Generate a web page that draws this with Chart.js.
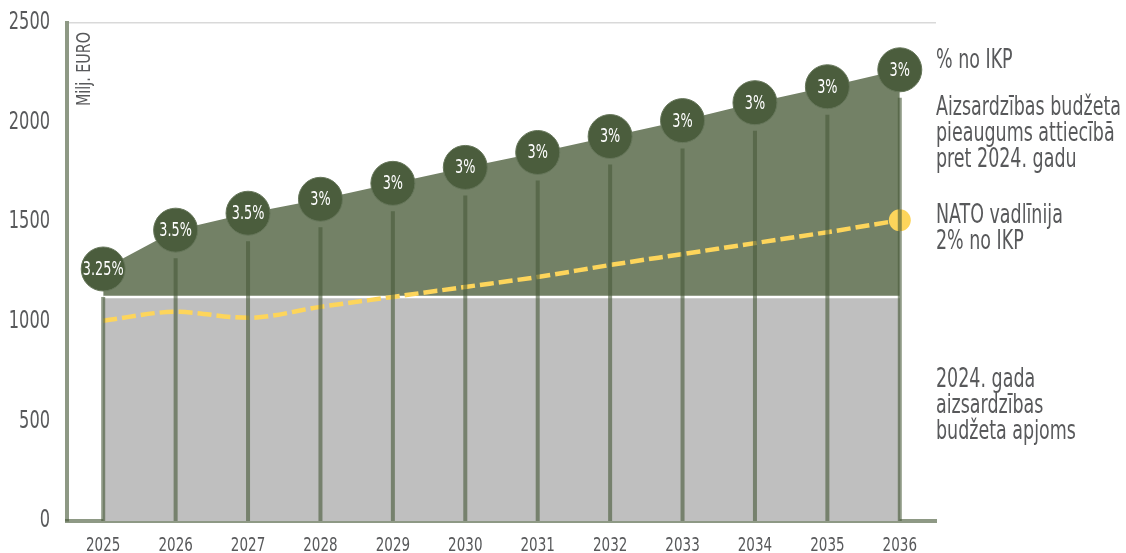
<!DOCTYPE html>
<html>
<head>
<meta charset="utf-8">
<script src="https://cdn.jsdelivr.net/npm/chart.js@4.4.1/dist/chart.umd.min.js"></script>
<style>
  html, body { margin: 0; padding: 0; background: #ffffff; }
  #wrap { width: 1126px; height: 553px; position: relative; }
</style>
</head>
<body>
<div id="wrap"><canvas id="c" width="1126" height="553"></canvas></div>
<script>
// ---------------- data ----------------
const years = ['2025','2026','2027','2028','2029','2030','2031','2032','2033','2034','2035','2036'];
const budget = [1265, 1460, 1545, 1615, 1695, 1775, 1850, 1930, 2010, 2100, 2180, 2265];
const natoGuideline = [1005, 1050, 1020, 1075, 1125, 1175, 1225, 1285, 1340, 1395, 1450, 1510];
const budget2024 = [1125, 1125, 1125, 1125, 1125, 1125, 1125, 1125, 1125, 1125, 1125, 1125];
const gdpShare = ['3.25%','3.5%','3.5%','3%','3%','3%','3%','3%','3%','3%','3%','3%'];
const yTicks = [0, 500, 1000, 1500, 2000, 2500];
const axisTitle = 'Milj. EURO';
const noteGdp = ['% no IKP'];
const noteGrowth = ['Aizsardzības budžeta', 'pieaugums attiecībā', 'pret 2024. gadu'];
const noteNato = ['NATO vadlīnija', '2% no IKP'];
const noteBase = ['2024. gada', 'aizsardzības', 'budžeta apjoms'];

// ---------------- styles ----------------
const TEXT = '#58595b';
const AREA = '#738166';
const BUBBLE = '#4b5d3d';
const BASE = '#bfbfbf';
const STEM = 'rgba(72,90,58,0.62)';
const YELLOW = '#fdd55b';
const TOPLINE = '#d9d9d9';
const BUBBLE_R = 22;
const TEXT_SX = 0.75;      // horizontal condensing of glyphs (tall narrow type)

function pickFont(list) {
  const c = document.createElement('canvas').getContext('2d');
  const s = 'mmmmmmmmmmlliWw0123456789';
  c.font = '40px monospace'; const b1 = c.measureText(s).width;
  c.font = '40px serif'; const b2 = c.measureText(s).width;
  for (const f of list) {
    c.font = `40px "${f}", monospace`; const w1 = c.measureText(s).width;
    c.font = `40px "${f}", serif`; const w2 = c.measureText(s).width;
    if (w1 !== b1 || w2 !== b2) return f;
  }
  return 'sans-serif';
}
const FONT = pickFont(['Liberation Sans Narrow', 'DejaVu Sans Condensed', 'Roboto Condensed', 'Liberation Sans']);
const FAMILY = `"${FONT}", "Liberation Sans", sans-serif`;
const mctx = document.createElement('canvas').getContext('2d');
function widthAt(txt, size) { mctx.font = `${size}px ${FAMILY}`; return mctx.measureText(txt).width; }

const Y_TICK_SIZE = 24;
const X_TICK_SIZE = 20;
const BUBBLE_SIZE = 19;
const NOTE_SIZE = 26;
const NOTE_SX = 185 / widthAt('Aizsardzības budžeta', NOTE_SIZE);
const TITLE_SIZE = 20;
const TITLE_SX = 74 / widthAt(axisTitle, TITLE_SIZE);

// condense every text the chart itself draws (tick labels)
const condense = {
  id: 'condense',
  beforeDraw(chart) {
    const ctx = chart.ctx;
    if (ctx.__origFill) return;
    const orig = ctx.fillText;
    ctx.__origFill = orig;
    ctx.fillText = function (t, x, y, mw) {
      if (mw === undefined || mw === null) mw = this.measureText(t).width * TEXT_SX;
      return orig.call(this, t, x, y, mw);
    };
  },
  afterDraw(chart) {
    const ctx = chart.ctx;
    if (ctx.__origFill) { ctx.fillText = ctx.__origFill; delete ctx.__origFill; }
  }
};

function drawText(ctx, txt, x, y, size, sx, color, align) {
  ctx.save();
  ctx.font = `${size}px ${FAMILY}`;
  ctx.fillStyle = color;
  ctx.textAlign = align || 'left';
  ctx.textBaseline = 'alphabetic';
  ctx.fillText(txt, x, y, ctx.measureText(txt).width * sx);
  ctx.restore();
}

const decor = {
  id: 'decor',
  afterDatasetDraw(chart, args) {
    if (args.index !== 1) return;   // stems go above the NATO line, below the bubbles
    const { ctx, chartArea } = chart;
    const x = chart.scales.x, y = chart.scales.y;
    ctx.save();
    ctx.strokeStyle = STEM;
    ctx.lineWidth = 4;
    budget.forEach((v, i) => {
      const px = x.getPixelForValue(i);
      const top = y.getPixelForValue(v) + BUBBLE_R + 6;
      ctx.beginPath();
      ctx.moveTo(px, chartArea.bottom);
      ctx.lineTo(px, top);
      ctx.stroke();
    });
    ctx.restore();
  },
  afterDatasetsDraw(chart) {
    const { ctx } = chart;
    const meta = chart.getDatasetMeta(0);
    ctx.save();
    ctx.fillStyle = '#ffffff';
    ctx.font = `${BUBBLE_SIZE}px ${FAMILY}`;
    ctx.textAlign = 'center';
    ctx.textBaseline = 'middle';
    meta.data.forEach((pt, i) => {
      const t = gdpShare[i];
      ctx.fillText(t, pt.x, pt.y + 1, ctx.measureText(t).width * TEXT_SX);
    });
    ctx.restore();
  },
  afterDraw(chart) {
    const { ctx, chartArea } = chart;
    // rotated unit label inside the plot
    ctx.save();
    ctx.translate(chartArea.left + 23, 32);
    ctx.rotate(-Math.PI / 2);
    drawText(ctx, axisTitle, 0, 0, TITLE_SIZE, TITLE_SX, TEXT, 'right');
    ctx.restore();
    // notes on the right
    const nx = chartArea.right;
    const lh = 26;
    const blocks = [[noteGdp, 68], [noteGrowth, 115], [noteNato, 223], [noteBase, 387]];
    blocks.forEach(([lines, by]) => {
      lines.forEach((t, k) => drawText(ctx, t, nx, by + k * lh, NOTE_SIZE, NOTE_SX, TEXT));
    });
  }
};

new Chart(document.getElementById('c'), {
  type: 'line',
  data: {
    labels: years,
    datasets: [
      {
        label: '% no IKP',
        data: budget,
        showLine: false,
        pointRadius: BUBBLE_R,
        pointHoverRadius: BUBBLE_R,
        pointBackgroundColor: BUBBLE,
        pointBorderColor: '#66765a',
        pointBorderWidth: 1,
        order: 0
      },
      {
        label: 'NATO vadlīnija 2% no IKP',
        data: natoGuideline,
        borderColor: YELLOW,
        borderWidth: 4.5,
        borderDash: [14, 5],
        borderCapStyle: 'butt',
        cubicInterpolationMode: 'monotone',
        fill: false,
        pointRadius: ctx => ctx.dataIndex === natoGuideline.length - 1 ? 11 : 0,
        pointHoverRadius: ctx => ctx.dataIndex === natoGuideline.length - 1 ? 11 : 0,
        pointBackgroundColor: YELLOW,
        pointBorderWidth: 0,
        order: 1
      },
      {
        label: '2024. gada aizsardzības budžeta apjoms',
        data: budget2024,
        borderColor: '#ffffff',
        borderWidth: 2.5,
        backgroundColor: BASE,
        fill: 'origin',
        pointRadius: 0,
        order: 2
      },
      {
        label: 'Aizsardzības budžeta pieaugums',
        data: budget,
        borderWidth: 0,
        borderColor: AREA,
        backgroundColor: AREA,
        fill: 'origin',
        tension: 0,
        pointRadius: 0,
        order: 3
      }
    ]
  },
  options: {
    responsive: false,
    devicePixelRatio: 1,
    animation: false,
    events: [],
    layout: { padding: { left: 0, right: 190, top: 20, bottom: 0 } },
    plugins: { legend: { display: false }, tooltip: { enabled: false } },
    scales: {
      x: {
        type: 'category',
        offset: true,
        afterFit: s => { s.height = 32; s.paddingLeft = 0; s.paddingRight = 0; },
        grid: { display: false, drawTicks: false },
        border: { display: true, color: STEM, width: 4 },
        ticks: {
          color: TEXT,
          padding: 13,
          maxRotation: 0,
          autoSkip: false,
          font: { family: FAMILY, size: X_TICK_SIZE }
        }
      },
      y: {
        min: 0,
        max: 2500,
        afterFit: s => { s.width = 67; s.paddingTop = 0; s.paddingBottom = 0; },
        afterBuildTicks: s => { s.ticks = yTicks.map(v => ({ value: v })); },
        grid: {
          drawTicks: false,
          color: c => (c.tick && c.tick.value === 2500) ? TOPLINE : 'rgba(0,0,0,0)',
          lineWidth: 1.5
        },
        border: { display: true, color: STEM, width: 4 },
        ticks: {
          color: TEXT,
          padding: 17,
          callback: v => String(v),
          font: { family: FAMILY, size: Y_TICK_SIZE }
        }
      }
    }
  },
  plugins: [condense, decor]
});
</script>
</body>
</html>
